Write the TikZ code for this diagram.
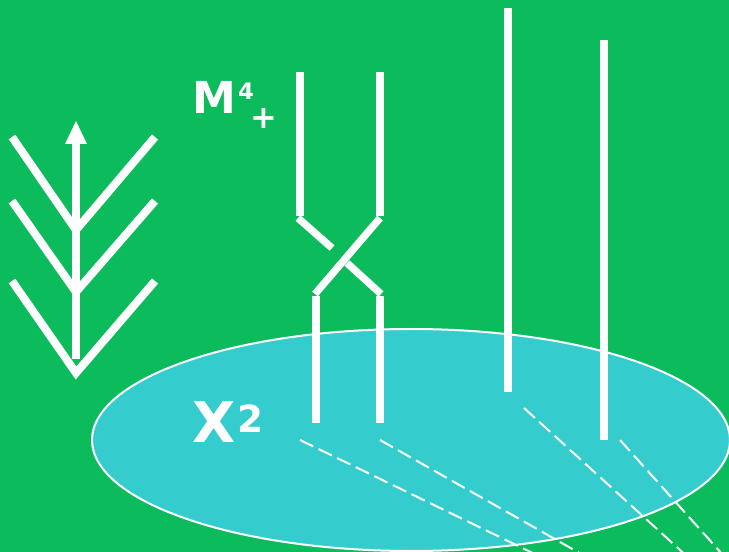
\documentclass[tikz,border=0pt]{standalone}
\usepackage{fontspec}
\setmainfont{DejaVu Sans}
\definecolor{bggreen}{HTML}{0CBB5C}
\definecolor{disc}{HTML}{35CCCE}
\begin{document}
\begin{tikzpicture}[x=0.75pt,y=-0.75pt,
  thick line/.style={white,line width=6pt},
  braid/.style={white,line width=5.5pt},
  proj/.style={white,line width=1.5pt,dash pattern=on 11pt off 4.5pt},
  lbl/.style={white,inner sep=0pt}]
\fill[bggreen] (0,0) rectangle (729,552);
\useasboundingbox (0,0) rectangle (729,552);
\clip (0,0) rectangle (729,552);
% disc X^2
\draw[white,line width=1.5pt,fill=disc] (411,440) ellipse [x radius=319,y radius=111];
% tree with arrow
\coordinate (s0) at (76,359);
\coordinate (s1) at (76,143);
\coordinate (tip) at (76,121);
\draw[thick line] (s0) -- (s1);
\fill[white] (tip) -- (87,144) -- (65,144) -- cycle;
\draw[thick line] (12,137) -- (76,230) -- (155,137);
\draw[thick line] (12,201) -- (76,292) -- (155,201);
\draw[thick line] (12,281) -- (76,373) -- (155,281);
% braid crossing
\coordinate (a0) at (300,72);  \coordinate (a1) at (300,216);
\coordinate (b0) at (380,72);  \coordinate (b1) at (380,216);
\coordinate (c0) at (316,296); \coordinate (c1) at (316,423);
\coordinate (d0) at (380,296); \coordinate (d1) at (380,423);
\draw[braid] (a0) -- (a1);
\draw[braid] (b0) -- (b1);
\draw[braid] (c0) -- (c1);
\draw[braid] (d0) -- (d1);
\draw[braid] (380,218) -- (315,294);
\draw[braid] (298,218) -- (332,248);
\draw[braid] (347,263) -- (381,294);
% tall strands
\coordinate (e0) at (508,8);  \coordinate (e1) at (508,392);
\coordinate (f0) at (604,40); \coordinate (f1) at (604,440);
\draw[thick line] (e0) -- (e1);
\draw[thick line] (f0) -- (f1);
% projections
\draw[proj] (300,440) -- ++(280,136);
\draw[proj] (380,440) -- ++(240,136);
\draw[proj] (524,408) -- ++(200,182);
\draw[proj] (620,440) -- ++(120,134);
% labels
\node[lbl,font=\bfseries\fontsize{33pt}{33pt}\selectfont] (M) at (214,97) {M};
\node[lbl,font=\bfseries\fontsize{17pt}{17pt}\selectfont] (four) at (246,91) {4};
\node[lbl,font=\bfseries\fontsize{24pt}{24pt}\selectfont] (plus) at (264,118) {+};
\node[lbl,font=\bfseries\fontsize{42pt}{42pt}\selectfont] (X) at (214,422) {X};
\node[lbl,font=\bfseries\fontsize{28pt}{28pt}\selectfont] (two) at (250,419) {2};
\end{tikzpicture}
\end{document}
